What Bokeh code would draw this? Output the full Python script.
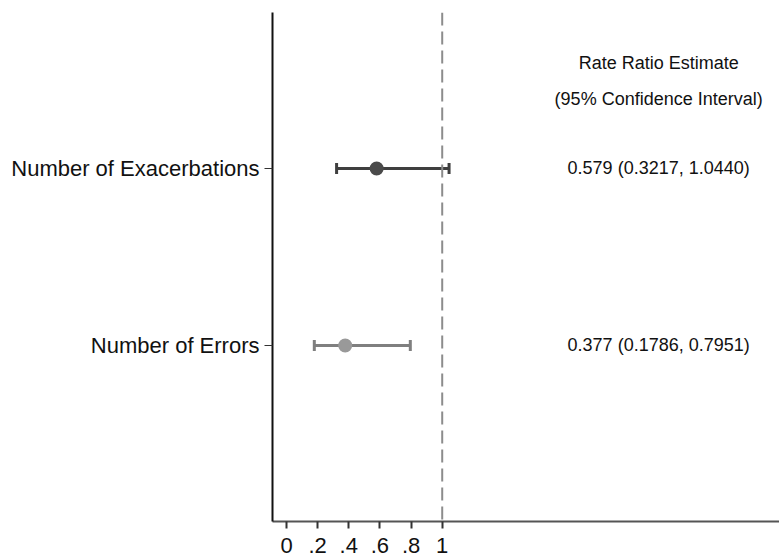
from bokeh.plotting import figure
from bokeh.models import ColumnDataSource, Range1d, Span, FixedTicker
from bokeh.core.properties import value
from bokeh.embed import file_html
from bokeh.resources import INLINE

categories = ["Number of Exacerbations", "Number of Errors"]
cat_pos = [2, 1]
estimates = [0.579, 0.377]
lower = [0.3217, 0.1786]
upper = [1.0440, 0.7951]
labels = ["0.579 (0.3217, 1.0440)", "0.377 (0.1786, 0.7951)"]
line_colors = ["#3f3f3f", "#7f7f7f"]
marker_colors = ["#4a4a4a", "#999999"]
x_ticks = [0, 0.2, 0.4, 0.6, 0.8, 1]
x_tick_labels = {0: "0", 0.2: ".2", 0.4: ".4", 0.6: ".6", 0.8: ".8", 1: "1"}
header = ["Rate Ratio Estimate", "(95% Confidence Interval)"]
header_y = [2.593, 2.39]
text_x = 2.39

FONT = "Liberation Sans"

p = figure(width=779, height=557, output_backend="svg", toolbar_location=None,
           x_range=Range1d(-0.0899, 3.166), y_range=Range1d(0.0056, 2.881),
           min_border_left=272, min_border_top=12, min_border_bottom=36, min_border_right=0)
p.outline_line_color = None
p.xgrid.visible = False
p.ygrid.visible = False

src = ColumnDataSource(dict(y=cat_pos, est=estimates, lo=lower, hi=upper,
                            lc=line_colors, mc=marker_colors, lab=labels,
                            tx=[text_x] * len(labels)))

p.add_layout(Span(location=1, dimension="height", line_color="#8c8c8c",
                  line_width=2, line_dash="13 6"))

p.segment(x0="lo", x1="hi", y0="y", y1="y", line_color="lc", line_width=3, source=src)
p.rect(x="lo", y="y", width=3, height=11, width_units="screen", height_units="screen",
       fill_color="lc", line_color=None, source=src)
p.rect(x="hi", y="y", width=3, height=11, width_units="screen", height_units="screen",
       fill_color="lc", line_color=None, source=src)
p.scatter(x="est", y="y", size=14, fill_color="mc", line_color=None, source=src)

p.text(x="tx", y="y", text="lab", text_align="center", text_baseline="middle",
       text_font=value(FONT), text_font_size="18px", text_color="#111111", source=src)

hsrc = ColumnDataSource(dict(x=[text_x] * len(header), y=header_y, t=header))
p.text(x="x", y="y", text="t", text_align="center", text_baseline="middle",
       text_font=value(FONT), text_font_size="18px", text_color="#111111", source=hsrc)

p.xaxis.ticker = FixedTicker(ticks=x_ticks)
p.xaxis.major_label_overrides = x_tick_labels
p.xaxis.minor_tick_line_color = None
p.xaxis.major_tick_in = 0
p.xaxis.major_tick_out = 7
p.xaxis.major_tick_line_color = "#333333"
p.xaxis.major_tick_line_width = 2
p.xaxis.axis_line_color = "#555555"
p.xaxis.axis_line_width = 2
p.xaxis.major_label_text_font = FONT
p.xaxis.major_label_text_font_size = "22px"
p.xaxis.major_label_text_color = "#111111"
p.xaxis.major_label_standoff = 9

p.yaxis.ticker = FixedTicker(ticks=cat_pos)
p.yaxis.major_label_overrides = {c: n for c, n in zip(cat_pos, categories)}
p.yaxis.minor_tick_line_color = None
p.yaxis.major_tick_in = 0
p.yaxis.major_tick_out = 8
p.yaxis.major_tick_line_color = "#333333"
p.yaxis.axis_line_color = "#111111"
p.yaxis.axis_line_width = 2
p.yaxis.major_label_text_font = FONT
p.yaxis.major_label_text_font_size = "22px"
p.yaxis.major_label_text_color = "#111111"
p.yaxis.major_label_standoff = 5

open("out.html", "w").write(file_html(p, INLINE))
